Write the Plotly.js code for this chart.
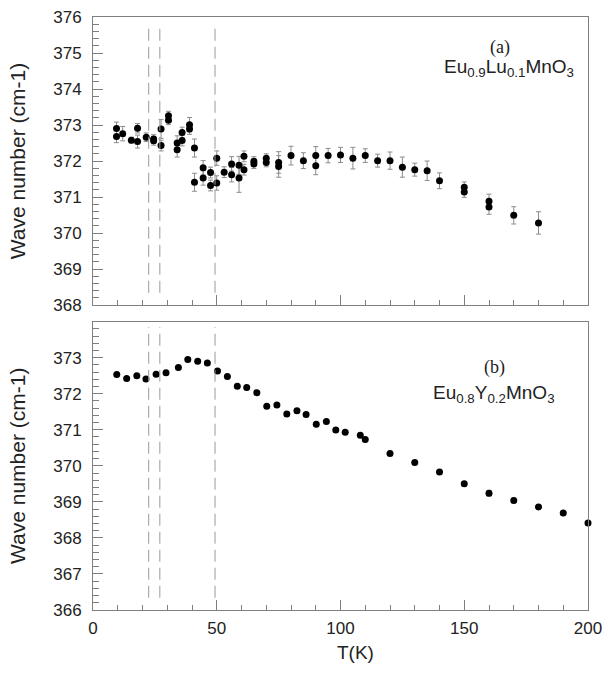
<!DOCTYPE html>
<html>
<head>
<meta charset="utf-8">
<script src="https://cdn.plot.ly/plotly-3.0.1.min.js"></script>
<style>html,body{margin:0;padding:0;background:#fff;}#chart{width:603px;height:675px;}</style>
</head>
<body>
<div id="chart"></div>
<script>
// Panel (a): Eu0.9Lu0.1MnO3
const tA = [9.5, 9.5, 12, 15.5, 18, 18, 21.5, 24.5, 24.5, 27.5, 27.5, 30.5, 30.5, 34, 34, 36, 36, 39, 39, 41, 41, 44.5, 44.5, 47.5, 47.5, 50, 50, 53, 56, 56, 59, 59, 61, 61, 65, 65, 70, 70, 75, 75, 80, 85, 90, 90, 95, 100, 105, 110, 115, 120, 125, 130, 135, 140, 150, 150, 160, 160, 170, 180];
const wA = [372.90, 372.68, 372.76, 372.58, 372.91, 372.54, 372.66, 372.61, 372.56, 372.89, 372.43, 373.26, 373.13, 372.50, 372.31, 372.79, 372.57, 373.01, 372.89, 372.36, 371.41, 371.81, 371.53, 371.68, 371.32, 372.08, 371.39, 371.69, 371.92, 371.62, 371.88, 371.53, 372.13, 371.76, 371.99, 371.92, 372.08, 371.96, 371.96, 371.85, 372.15, 372.01, 372.15, 371.87, 372.15, 372.17, 372.08, 372.15, 372.01, 372.01, 371.83, 371.76, 371.73, 371.45, 371.27, 371.14, 370.88, 370.72, 370.49, 370.28];
const eA = [0.18, 0.17, 0.2, 0.08, 0.13, 0.18, 0.12, 0.12, 0.12, 0.26, 0.15, 0.12, 0.12, 0.2, 0.2, 0.15, 0.15, 0.2, 0.15, 0.25, 0.25, 0.2, 0.2, 0.15, 0.15, 0.2, 0.2, 0.15, 0.2, 0.2, 0.25, 0.4, 0.15, 0.15, 0.13, 0.13, 0.12, 0.12, 0.3, 0.3, 0.26, 0.22, 0.25, 0.25, 0.2, 0.21, 0.3, 0.19, 0.18, 0.24, 0.28, 0.18, 0.27, 0.22, 0.15, 0.15, 0.2, 0.2, 0.24, 0.31];

// Panel (b): Eu0.8Y0.2MnO3
const tB = [9.6, 13.6, 17.7, 21.4, 25.5, 29.5, 34.5, 38.3, 42.3, 46.2, 50.3, 54.3, 58.3, 62.1, 66.2, 70.2, 74.3, 78.3, 82.4, 86.1, 90.2, 94.3, 98.1, 101.9, 108, 110, 120, 130, 140, 150, 160, 170, 180, 190, 200];
const wB = [372.53, 372.42, 372.50, 372.41, 372.54, 372.58, 372.73, 372.95, 372.90, 372.85, 372.63, 372.48, 372.21, 372.17, 372.03, 371.65, 371.69, 371.44, 371.53, 371.42, 371.15, 371.23, 370.99, 370.93, 370.85, 370.73, 370.34, 370.09, 369.83, 369.50, 369.24, 369.04, 368.86, 368.69, 368.41];
const eB = [0.04, 0.04, 0.04, 0.04, 0.04, 0.04, 0.04, 0.04, 0.04, 0.04, 0.04, 0.04, 0.04, 0.04, 0.04, 0.04, 0.04, 0.04, 0.04, 0.04, 0.04, 0.04, 0.04, 0.04, 0.04, 0.04, 0.05, 0.05, 0.06, 0.06, 0.08, 0.06, 0.06, 0.05, 0.05];

// Transition temperatures (dashed lines)
const transitionsT = [22.5, 27, 49.3];

const yTicksA = [368, 369, 370, 371, 372, 373, 374, 375, 376];
const yTicksB = [366, 367, 368, 369, 370, 371, 372, 373];
const xTicks = [0, 50, 100, 150, 200];

const markerStyle = {color: '#000', size: 7};
const errStyle = {type: 'data', visible: true, color: '#8c8c8c', thickness: 1, width: 2.5};

const traces = [
  {x: tA, y: wA, xaxis: 'x2', yaxis: 'y2', mode: 'markers', type: 'scatter', cliponaxis: false,
   marker: markerStyle, error_y: Object.assign({array: eA}, errStyle), hoverinfo: 'x+y'},
  {x: tB, y: wB, xaxis: 'x', yaxis: 'y', mode: 'markers', type: 'scatter', cliponaxis: false,
   marker: markerStyle, error_y: Object.assign({array: eB}, errStyle), hoverinfo: 'x+y'}
];

const frame = '#7f7f7f';
const FAM = "Arial, 'Liberation Sans', sans-serif";
const SERIF = "'Times New Roman', 'Liberation Serif', serif";
const font = {family: FAM, size: 17, color: '#222'};
const titleFont = {family: FAM, size: 21, color: '#222'};

const commonY = {
  showline: true, linecolor: frame, linewidth: 1, mirror: true,
  ticks: 'inside', ticklen: 10, tickcolor: frame, tickwidth: 1,
  minor: {ticks: 'inside', ticklen: 6, dtick: 0.2, tickcolor: frame, tickwidth: 1},
  showgrid: false, zeroline: false, ticklabelstandoff: 7,
  tickfont: font
};
const commonX = {
  range: [0, 200], showline: true, linecolor: frame, linewidth: 1, mirror: true,
  ticks: 'inside', ticklen: 10, tickcolor: frame, tickwidth: 1,
  minor: {ticks: 'inside', ticklen: 5, dtick: 10, tickcolor: frame, tickwidth: 1},
  showgrid: false, zeroline: false, tickmode: 'array', tickvals: xTicks,
  tickfont: font
};

const shapes = [];
transitionsT.forEach(t => {
  shapes.push({type: 'line', xref: 'x2', yref: 'y2', x0: t, x1: t, y0: 368.34, y1: 375.84,
    line: {color: '#9a9a9a', width: 1, dash: '12px,6px'}});
  shapes.push({type: 'line', xref: 'x', yref: 'y', x0: t, x1: t, y0: 366.34, y1: 373.85,
    line: {color: '#9a9a9a', width: 1, dash: '12px,6px'}});
});

const layout = {
  width: 603, height: 675,
  margin: {l: 93, r: 15, t: 17, b: 65},
  paper_bgcolor: '#fff', plot_bgcolor: '#fff',
  showlegend: false,
  font: font,
  xaxis: Object.assign({}, commonX, {anchor: 'y', ticktext: xTicks.map(String), ticklabelstandoff: 3}),
  xaxis2: Object.assign({}, commonX, {anchor: 'y2', matches: 'x', showticklabels: false}),
  yaxis: Object.assign({}, commonY, {domain: [0, 0.4863], range: [366, 374], tickmode: 'array',
    tickvals: yTicksB, title: {text: 'Wave number (cm-1)', font: titleFont, standoff: 21}}),
  yaxis2: Object.assign({}, commonY, {domain: [0.5143, 1], range: [368, 376], tickmode: 'array',
    tickvals: yTicksA, title: {text: 'Wave number (cm-1)', font: titleFont, standoff: 21}}),
  shapes: shapes,
  annotations: [
    {xref: 'paper', yref: 'paper', x: 0.53, y: -0.072, yanchor: 'middle', text: 'T(K)', showarrow: false,
     font: {family: FAM, size: 19, color: '#222'}},
    {xref: 'x2', yref: 'y2', x: 164.6, y: 375.15, text: '(a)', showarrow: false,
     font: {family: SERIF, size: 18, color: '#222'}},
    {xref: 'x2', yref: 'y2', x: 168, y: 374.58, text: 'Eu<sub>0.9</sub>Lu<sub>0.1</sub>MnO<sub>3</sub>', showarrow: false,
     font: {family: FAM, size: 19, color: '#222'}},
    {xref: 'x', yref: 'y', x: 162.2, y: 372.72, text: '(b)', showarrow: false,
     font: {family: SERIF, size: 18, color: '#222'}},
    {xref: 'x', yref: 'y', x: 162.2, y: 372.0, text: 'Eu<sub>0.8</sub>Y<sub>0.2</sub>MnO<sub>3</sub>', showarrow: false,
     font: {family: FAM, size: 19, color: '#222'}}
  ]
};

Plotly.newPlot('chart', traces, layout, {displayModeBar: false, staticPlot: true});
</script>
</body>
</html>
